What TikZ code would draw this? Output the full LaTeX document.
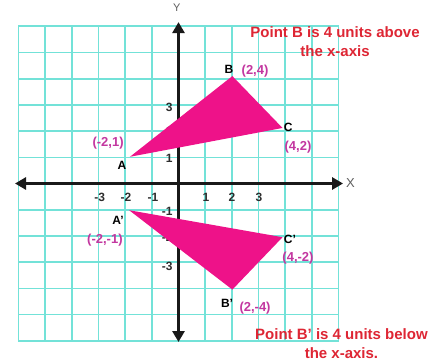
\documentclass[tikz,border=0pt]{standalone}
\usepackage{fontspec}
\setmainfont{Liberation Sans}
\usetikzlibrary{arrows.meta}
\definecolor{gridc}{RGB}{115,226,216}
\definecolor{tripink}{RGB}{238,18,137}
\definecolor{coordc}{RGB}{195,55,160}
\definecolor{notec}{RGB}{222,38,52}
\definecolor{tickc}{RGB}{45,45,45}
\definecolor{axlab}{RGB}{95,95,95}
\begin{document}
\begin{tikzpicture}[x=26.67pt,y=26.2pt,
  gridline/.style={gridc,line width=1.6pt},
  axisline/.style={line width=3pt,black!90,{Triangle[length=11pt,width=12pt]}-{Triangle[length=11pt,width=12pt]}},
  tick/.style={font=\fontsize{12}{12}\selectfont\bfseries,text=tickc,inner sep=0pt},
  vlabel/.style={font=\fontsize{12}{12}\selectfont\bfseries,text=black,inner sep=0pt},
  clabel/.style={font=\fontsize{13}{13}\selectfont\bfseries,text=coordc,inner sep=0pt},
  note/.style={font=\fontsize{15}{19}\selectfont\bfseries,text=notec,align=center,inner sep=0pt},
  axname/.style={font=\fontsize{13}{13}\selectfont,text=axlab,inner sep=0pt},
  tri/.style={fill=tripink}]
\useasboundingbox (-178.5pt,-178.5pt) rectangle (262.5pt,183.5pt);
\fill[white] (-178.5pt,-178.5pt) rectangle (262.5pt,183.5pt);
% grid
\foreach \i in {-6,...,6}{
  \draw[gridline] (\i,-6) -- (\i,6);
  \draw[gridline] (-6,\i) -- (6,\i);
}
% axes
\coordinate (xl) at (-6.13,0);
\coordinate (xr) at (6.17,0);
\coordinate (yt) at (0,6.16);
\coordinate (yb) at (0,-6.05);
\draw[axisline] (xl) -- (xr);
\draw[axisline] (yb) -- (yt);
\node[axname] (xname) at (6.45,0) {X};
\node[axname,font=\fontsize{11}{11}\selectfont] (yname) at (-0.06,6.72) {Y};
% tick labels
\node[tick] (tx3m) at (-2.95,-0.52) {-3};
\node[tick] (tx2m) at (-1.97,-0.52) {-2};
\node[tick] (tx1m) at (-0.96,-0.52) {-1};
\node[tick] (tx1) at (1.03,-0.52) {1};
\node[tick] (tx2) at (2,-0.52) {2};
\node[tick] (tx3) at (3.02,-0.52) {3};
\node[tick,anchor=east] (ty3) at (-0.22,2.92) {3};
\node[tick,anchor=east] (ty2) at (-0.22,2.0) {2};
\node[tick,anchor=east] (ty1) at (-0.22,0.97) {1};
\node[tick,anchor=east] (ty1m) at (-0.22,-1.07) {-1};
\node[tick,anchor=east] (ty2m) at (-0.22,-2.05) {-2};
\node[tick,anchor=east] (ty3m) at (-0.22,-3.15) {-3};
% triangles
\coordinate (A) at (-1.82,1.02);
\coordinate (B) at (2.02,4.1);
\coordinate (C) at (3.9,2.12);
\coordinate (A2) at (-1.85,-1.02);
\coordinate (B2) at (2.02,-4.05);
\coordinate (C2) at (3.9,-2.05);
\fill[tri] (A) -- (B) -- (C) -- cycle;
\fill[tri] (A2) -- (B2) -- (C2) -- cycle;
% vertex labels
\node[vlabel] (lA) at (-2.12,0.71) {A};
\node[clabel] (cA) at (-2.64,1.55) {(-2,1)};
\node[vlabel] (lB) at (1.89,4.37) {B};
\node[clabel] (cB) at (2.87,4.29) {(2,4)};
\node[vlabel] (lC) at (4.11,2.16) {C};
\node[clabel] (cC) at (4.48,1.39) {(4,2)};
\node[vlabel] (lA2) at (-2.27,-1.39) {A'};
\node[clabel] (cA2) at (-2.76,-2.16) {(-2,-1)};
\node[vlabel] (lC2) at (4.18,-2.12) {C'};
\node[clabel] (cC2) at (4.48,-2.84) {(4,-2)};
\node[vlabel] (lB2) at (1.82,-4.56) {B'};
\node[clabel] (cB2) at (2.87,-4.75) {(2,-4)};
% notes
\node[note] (n1) at (5.87,5.42) {Point B is 4 units above\\the x-axis};
\node[note] (n2) at (6.11,-6.11) {Point B' is 4 units below\\the x-axis.};
\end{tikzpicture}
\end{document}
